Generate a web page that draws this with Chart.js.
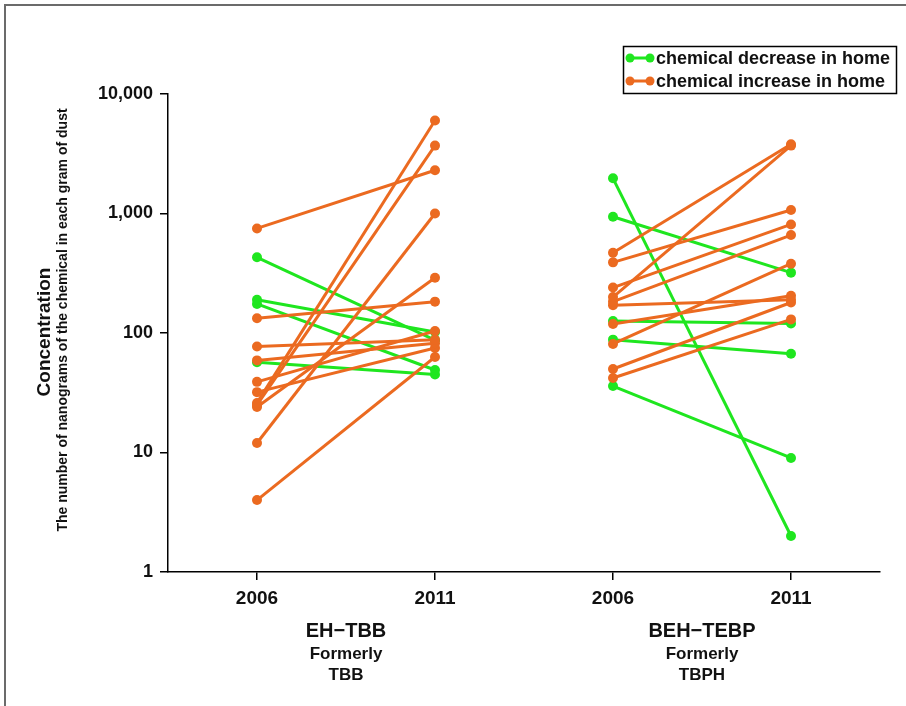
<!DOCTYPE html>
<html>
<head>
<meta charset="utf-8">
<script src="https://cdn.jsdelivr.net/npm/chart.js@4.4.1/dist/chart.umd.min.js"></script>
<style>
  html, body { margin: 0; padding: 0; background: #fff; overflow: hidden; }
  #frame { position: absolute; left: 4px; top: 4px; width: 940px; height: 740px; border: 2px solid #6b6b6b; }
  #wrap { position: absolute; left: 0; top: 0; width: 906px; height: 706px; }
</style>
</head>
<body>
<div id="frame"></div>
<div id="wrap"><canvas id="chart"></canvas></div>
<script>
// Valores por hogar (ng/g de polvo), pares 2006 -> 2011
const tbb2006  = [750, 133, 77, 59, 39, 32, 26, 25, 24, 12, 4, 430, 190, 175, 57];
const tbb2011  = [2300, 183, 88, 82, 104, 75, 6000, 3700, 290, 1000, 63, 87, 102, 49, 45];
const tebp2006 = [470, 390, 240, 200, 183, 171, 119, 81, 50, 42, 1970, 940, 126, 88, 36];
const tebp2011 = [3800, 1070, 810, 3700, 660, 190, 205, 380, 180, 130, 2, 320, 120, 67, 9];

const xTickLabels = ['2006', '2011', '2006', '2011'];
const yTickValues = [1, 10, 100, 1000, 10000];
const groupNames = [['EH\u2212TBB', 'Formerly', 'TBB'], ['BEH\u2212TEBP', 'Formerly', 'TBPH']];
const legendLabels = ['chemical decrease in home', 'chemical increase in home'];
const yTitle = 'Concentration';
const ySubtitle = 'The number of nanograms of the chemical in each gram of dust';

const GREEN = '#1fe61f';
const ORANGE = '#eb6a20';
const FONT = '"Liberation Sans", Arial, sans-serif';

/**
 * Construye un dataset por hogar: línea entre los dos años.
 */
function buildPairs(before, after, xStart) {
  return before.map((v, i) => {
    const color = after[i] < v ? GREEN : ORANGE;
    return {
      data: [{ x: xStart, y: v }, { x: xStart + 1, y: after[i] }],
      borderColor: color,
      backgroundColor: color,
      pointBackgroundColor: color,
      pointBorderColor: color,
      borderWidth: 3,
      pointRadius: 5,
      pointBorderWidth: 0,
      clip: false,
      order: color === GREEN ? 1 : 0
    };
  });
}

const datasets = buildPairs(tbb2006, tbb2011, 1).concat(buildPairs(tebp2006, tebp2011, 3));

// Textos extra: títulos del eje Y, nombres de grupos y leyenda
const extraText = {
  id: 'extraText',
  afterDraw(chart) {
    const ctx = chart.ctx;
    const xs = chart.scales.x;
    ctx.save();
    ctx.fillStyle = '#111';
    ctx.textAlign = 'center';
    ctx.textBaseline = 'middle';

    ctx.save();
    ctx.translate(45, 332);
    ctx.rotate(-Math.PI / 2);
    ctx.font = 'bold 19px ' + FONT;
    ctx.fillText(yTitle, 0, 0);
    ctx.restore();

    ctx.save();
    ctx.translate(63, 320);
    ctx.rotate(-Math.PI / 2);
    ctx.font = 'bold 14px ' + FONT;
    ctx.fillText(ySubtitle, 0, 0);
    ctx.restore();

    groupNames.forEach((g, i) => {
      const cx = (xs.getPixelForValue(i * 2 + 1) + xs.getPixelForValue(i * 2 + 2)) / 2;
      ctx.font = 'bold 20px ' + FONT;
      ctx.fillText(g[0], cx, 631);
      ctx.font = 'bold 17px ' + FONT;
      ctx.fillText(g[1], cx, 654);
      ctx.fillText(g[2], cx, 675);
    });

    // Leyenda
    ctx.lineWidth = 1.5;
    ctx.strokeStyle = '#000';
    ctx.strokeRect(623.5, 46.5, 273, 47);
    [GREEN, ORANGE].forEach((c, i) => {
      const y = 58 + i * 23;
      ctx.strokeStyle = c;
      ctx.fillStyle = c;
      ctx.lineWidth = 3;
      ctx.beginPath();
      ctx.moveTo(630, y);
      ctx.lineTo(650, y);
      ctx.stroke();
      [630, 650].forEach(px => {
        ctx.beginPath();
        ctx.arc(px, y, 4.5, 0, Math.PI * 2);
        ctx.fill();
      });
      ctx.fillStyle = '#111';
      ctx.textAlign = 'left';
      ctx.font = 'bold 18px ' + FONT;
      ctx.fillText(legendLabels[i], 656, y + 1);
    });
    ctx.restore();
  }
};

new Chart(document.getElementById('chart'), {
  type: 'line',
  data: { datasets },
  options: {
    responsive: true,
    maintainAspectRatio: false,
    animation: false,
    layout: { padding: { top: 94, right: 26, left: 0, bottom: 0 } },
    plugins: { legend: { display: false }, tooltip: { enabled: false } },
    scales: {
      x: {
        type: 'linear',
        min: 0.5,
        max: 4.5,
        afterBuildTicks: scale => { scale.ticks = [1, 2, 3, 4].map(v => ({ value: v })); },
        afterFit: scale => { scale.height = 134; },
        ticks: {
          callback: v => xTickLabels[v - 1],
          color: '#111',
          font: { family: FONT, size: 19, weight: 'bold' },
          padding: 7,
          maxRotation: 0
        },
        grid: { drawOnChartArea: false, drawTicks: true, tickLength: 8, color: '#000', lineWidth: 1.5 },
        border: { color: '#000', width: 1.5 }
      },
      y: {
        type: 'logarithmic',
        min: 1,
        max: 10000,
        afterBuildTicks: scale => { scale.ticks = yTickValues.map(v => ({ value: v })); },
        afterFit: scale => { scale.width = 168; },
        ticks: {
          callback: v => v.toLocaleString('en-US'),
          color: '#111',
          font: { family: FONT, size: 18, weight: 'bold' },
          padding: 7
        },
        grid: { drawOnChartArea: false, drawTicks: true, tickLength: 8, color: '#000', lineWidth: 1.5 },
        border: { color: '#000', width: 1.5 }
      }
    }
  },
  plugins: [extraText]
});
</script>
</body>
</html>
